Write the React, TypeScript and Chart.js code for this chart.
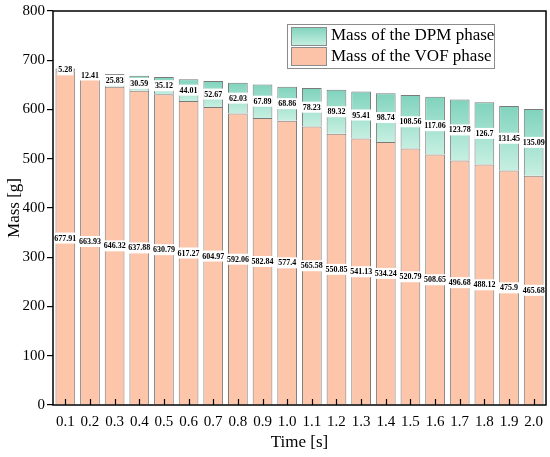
import { useEffect, useRef } from "react";
import Chart from "chart.js/auto";

const times = ["0.1", "0.2", "0.3", "0.4", "0.5", "0.6", "0.7", "0.8", "0.9", "1.0",
  "1.1", "1.2", "1.3", "1.4", "1.5", "1.6", "1.7", "1.8", "1.9", "2.0"];
const vofMass = [677.91, 663.93, 646.32, 637.88, 630.79, 617.27, 604.97, 592.06, 582.84, 577.4,
  565.58, 550.85, 541.13, 534.24, 520.79, 508.65, 496.68, 488.12, 475.9, 465.68];
const dpmMass = [5.28, 12.41, 25.83, 30.59, 35.12, 44.01, 52.67, 62.03, 67.89, 68.86,
  78.23, 89.32, 95.41, 98.74, 108.56, 117.06, 123.78, 126.7, 131.45, 135.09];
const yTicks = [0, 100, 200, 300, 400, 500, 600, 700, 800];

const SERIF = "'Liberation Serif', 'Times New Roman', serif";

// draws frame, inward x ticks, value labels and the legend
const decorPlugin = {
  id: "decor",
  afterDatasetsDraw(chart: any) {
    const { ctx, chartArea: a } = chart;
    const x = chart.scales.x;
    const y = chart.scales.y;

    ctx.save();
    ctx.font = `bold 8px ${SERIF}`;
    ctx.textAlign = "center";
    ctx.textBaseline = "middle";
    const label = (txt: string, cx: number, cy: number) => {
      const w = ctx.measureText(txt).width + 2;
      ctx.fillStyle = "#ffffff";
      ctx.fillRect(cx - w / 2, cy - 5.5, w, 11);
      ctx.fillStyle = "#000000";
      ctx.fillText(txt, cx, cy + 0.5);
    };
    times.forEach((_, i) => {
      const cx = x.getPixelForValue(i);
      label(String(vofMass[i]), cx, y.getPixelForValue(vofMass[i] / 2));
      label(String(dpmMass[i]), cx, y.getPixelForValue(vofMass[i] + dpmMass[i] / 2));
    });

    // frame
    ctx.strokeStyle = "#000000";
    ctx.lineWidth = 1.5;
    ctx.strokeRect(a.left, a.top, a.right - a.left, a.bottom - a.top);
    ctx.lineWidth = 1.2;
    times.forEach((_, i) => {
      const cx = Math.round(x.getPixelForValue(i)) + 0.5;
      ctx.beginPath();
      ctx.moveTo(cx, a.bottom);
      ctx.lineTo(cx, a.bottom - 6);
      ctx.stroke();
    });

    // legend
    const lx = 287, ly = 24, lw = 207, lh = 44;
    ctx.fillStyle = "#ffffff";
    ctx.fillRect(lx, ly, lw, lh);
    ctx.strokeStyle = "#8c8c8c";
    ctx.lineWidth = 1;
    ctx.strokeRect(lx + 0.5, ly + 0.5, lw, lh);
    const g1 = ctx.createLinearGradient(0, ly + 3, 0, ly + 21);
    g1.addColorStop(0, "#7fd3bd");
    g1.addColorStop(1, "#c4eedf");
    ctx.fillStyle = g1;
    ctx.fillRect(lx + 4, ly + 3, 35, 18);
    ctx.strokeRect(lx + 4.5, ly + 3.5, 35, 18);
    ctx.fillStyle = "#fcc3a8";
    ctx.fillRect(lx + 4, ly + 23, 35, 18);
    ctx.strokeRect(lx + 4.5, ly + 23.5, 35, 18);
    ctx.fillStyle = "#000000";
    ctx.font = `17px ${SERIF}`;
    ctx.textAlign = "left";
    ctx.fillText("Mass of the DPM phase", lx + 44, ly + 12);
    ctx.fillText("Mass of the VOF phase", lx + 44, ly + 33);
    ctx.restore();
  },
};

export default function App() {
  const canvasRef = useRef<HTMLCanvasElement>(null);

  useEffect(() => {
    document.body.style.margin = "0";
    if (!canvasRef.current) return;

    const dpmFill = (context: any) => {
      const chart = context.chart;
      const i = context.dataIndex;
      const ys = chart.scales.y;
      if (!ys || i === undefined) return "#a8e3d2";
      const top = ys.getPixelForValue(vofMass[i] + dpmMass[i]);
      const bottom = ys.getPixelForValue(vofMass[i]);
      if (!isFinite(top) || !isFinite(bottom)) return "#a8e3d2";
      const g = chart.ctx.createLinearGradient(0, top, 0, bottom);
      g.addColorStop(0, "#7fd3bd");
      g.addColorStop(1, "#c6efe1");
      return g;
    };

    const chart = new Chart(canvasRef.current, {
      type: "bar",
      data: {
        labels: times,
        datasets: [
          {
            label: "Mass of the VOF phase",
            data: vofMass,
            backgroundColor: "#fdc5aa",
            borderColor: "#7a7a7a",
            borderWidth: 1,
            barPercentage: 0.8,
            categoryPercentage: 1,
          },
          {
            label: "Mass of the DPM phase",
            data: dpmMass,
            backgroundColor: dpmFill,
            borderColor: "#7a7a7a",
            borderWidth: 1,
            barPercentage: 0.8,
            categoryPercentage: 1,
          },
        ],
      },
      options: {
        responsive: false,
        animation: false,
        layout: { padding: { top: 10, right: 4, left: 0, bottom: 0 } },
        plugins: {
          legend: { display: false },
          tooltip: { enabled: false },
        },
        scales: {
          x: {
            stacked: true,
            grid: { display: false },
            border: { display: false },
            ticks: { color: "#000000", font: { family: SERIF, size: 15 }, padding: 0, maxRotation: 0 },
            title: { display: true, text: "Time [s]", color: "#000000", font: { family: SERIF, size: 17 }, padding: { top: 2, bottom: 4 } },
            afterFit: (s: any) => { s.height = 52; },
          },
          y: {
            stacked: true,
            min: 0,
            max: 800,
            afterBuildTicks: (s: any) => { s.ticks = yTicks.map((v) => ({ value: v })); },
            grid: { drawOnChartArea: false, tickLength: 6, color: "#000000", lineWidth: 1.2 },
            border: { display: false },
            ticks: { color: "#000000", font: { family: SERIF, size: 15 }, padding: 2 },
            title: { display: true, text: "Mass [g]", color: "#000000", font: { family: SERIF, size: 17 }, padding: { bottom: 0 } },
            afterFit: (s: any) => { s.width = 53; },
          },
        },
      },
      plugins: [decorPlugin],
    });

    return () => chart.destroy();
  }, []);

  return (
    <div style={{ width: 550, height: 457, background: "#ffffff" }}>
      <canvas ref={canvasRef} width={550} height={457} />
    </div>
  );
}
